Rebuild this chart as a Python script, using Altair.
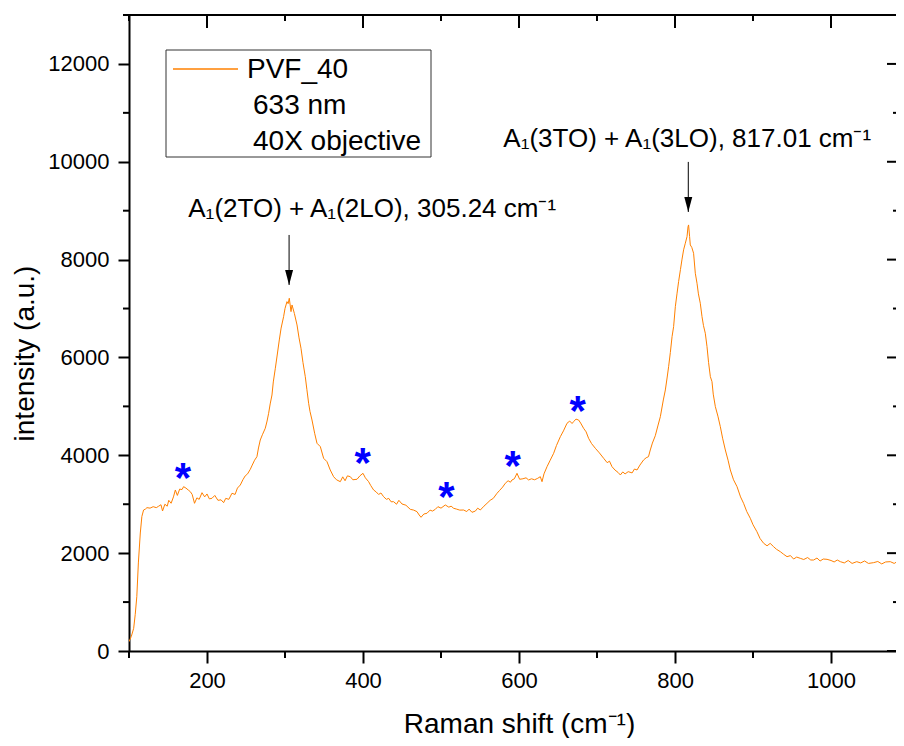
import altair as alt
import pandas as pd

# ---------------- data ----------------
shift = [100, 103, 106, 108, 110, 112, 114.5, 116.5, 118.7, 121, 123, 127, 131, 135, 138, 141, 143, 146,
         149, 151, 154, 157, 159.4, 162, 165, 168, 170, 173, 176, 178.6, 181, 184, 187, 190, 193.6, 197,
         200, 203, 206.4, 210, 214, 218, 221.3, 224, 228, 232, 236, 239, 242.7, 246, 249, 252, 255.5, 258,
         261, 264, 266, 268.3, 271, 274.7, 277, 279, 281, 283.3, 285, 287.6, 290, 292.7, 295, 298.2, 300,
         302.5, 304, 305.5, 307.7, 309, 312, 315.4, 318, 320.5, 323, 326, 328, 330.3, 332, 334.6, 338, 341,
         345.3, 349.5, 353.8, 358, 362.3, 366, 370.9, 374, 377, 380, 383.7, 387, 392.3, 396, 400, 403, 407.2,
         410, 413.6, 417, 420, 423, 426.4, 430, 433, 436, 439.2, 443, 446, 450, 455, 460.6, 465, 469.2, 472,
         474.4, 478, 482, 486, 489, 492.7, 496, 500, 505.5, 510, 513, 516.2, 520, 524, 529, 533, 536, 539.7,
         544, 547, 550.4, 555, 559, 563, 567, 571.8, 575, 579, 582.4, 586, 589, 591, 594, 597.4, 600.8, 605,
         609, 612.3, 616, 620, 624, 627.3, 629.5, 632, 635.9, 640, 644.4, 648, 653, 657, 661.5, 665, 668, 670,
         673, 676.4, 679, 682.8, 686, 689.2, 693, 697.8, 703, 708.5, 713, 716, 719.2, 723, 727, 729.9, 733,
         736, 740, 745, 748, 751.3, 755, 759.7, 763, 766, 768.3, 771, 774.7, 778, 781.2, 785, 787.6, 790,
         791.8, 794, 796.2, 798.2, 800.4, 802.5, 804.6, 807, 809, 811, 813.2, 815.4, 816.7, 817.4, 818.7,
         819.6, 821.5, 823.8, 826, 828.2, 830, 832.4, 834.6, 836.5, 838.8, 841, 843, 845.3, 847.4, 849, 851.7,
         855, 858.1, 861, 864.5, 868, 870.9, 875, 879.5, 884, 887.9, 892, 896.5, 900, 905, 909, 913.6, 918,
         922, 926.4, 930, 935, 939, 943.6, 948, 952, 956, 960.6, 965, 970, 974, 977.7, 982, 986, 990, 994.9,
         1000, 1004, 1008, 1012, 1017, 1022, 1027, 1033, 1038, 1043, 1048, 1054.6, 1060, 1065, 1070, 1076,
         1081, 1086, 1091, 1095, 1100]
intensity = [190, 300, 464, 750, 1110, 1800, 2412, 2750, 2882, 2900, 2930, 2920, 2950, 2930, 2960, 2990,
             2862, 3000, 2960, 3080, 3020, 3150, 3291, 3180, 3310, 3300, 3359, 3330, 3290, 3257, 3200, 3019,
             3130, 3100, 3236, 3150, 3210, 3110, 3121, 3180, 3080, 3090, 3032, 3120, 3100, 3224, 3200, 3330,
             3393, 3500, 3580, 3620, 3714, 3800, 3900, 3972, 4150, 4313, 4420, 4553, 4700, 4859, 5050, 5233,
             5500, 5779, 6050, 6358, 6600, 6834, 7000, 7141, 7100, 7210, 6937, 7073, 6900, 6664, 6400, 6188,
             5900, 5607, 5350, 5064, 4900, 4722, 4450, 4246, 4177, 3939, 3870, 3700, 3563, 3500, 3461, 3560,
             3480, 3580, 3563, 3500, 3510, 3580, 3632, 3540, 3461, 3380, 3291, 3250, 3200, 3230, 3154, 3100,
             3120, 3050, 3052, 3000, 3080, 3005, 2980, 2896, 2880, 2848, 2780, 2733, 2800, 2815, 2880, 2860,
             2896, 2950, 2920, 2985, 2940, 2960, 2917, 2900, 2880, 2882, 2850, 2900, 2835, 2860, 2920, 2882,
             2960, 3019, 3080, 3120, 3224, 3280, 3350, 3428, 3480, 3450, 3496, 3520, 3632, 3510, 3520, 3540,
             3496, 3520, 3500, 3530, 3563, 3461, 3620, 3768, 3900, 4041, 4200, 4381, 4500, 4654, 4700, 4650,
             4688, 4740, 4722, 4660, 4552, 4480, 4348, 4240, 4144, 4050, 3939, 3850, 3880, 3768, 3700, 3650,
             3598, 3660, 3620, 3666, 3640, 3720, 3700, 3800, 3905, 3950, 3972, 4109, 4250, 4400, 4600, 4790,
             5131, 5336, 5600, 5812, 6100, 6425, 6630, 7038, 7300, 7550, 7800, 8010, 8200, 8335, 8470, 8674,
             8709, 8470, 8300, 8250, 8130, 7721, 7517, 7300, 7108, 6834, 6650, 6495, 6221, 5900, 5608, 5505,
             5250, 4994, 4800, 4585, 4350, 4109, 3900, 3700, 3500, 3359, 3150, 3019, 2850, 2713, 2580, 2439,
             2300, 2202, 2150, 2200, 2132, 2080, 2030, 1980, 1928, 1950, 1880, 1920, 1894, 1870, 1910, 1860,
             1860, 1900, 1840, 1880, 1874, 1850, 1820, 1860, 1826, 1800, 1850, 1790, 1826, 1800, 1840, 1790,
             1806, 1830, 1780, 1820, 1826, 1790, 1840, 1800, 1826, 1810]

star_x = [169.2, 399.5, 506.8, 591.8, 675.1]
star_y = [3735, 4042, 3359, 3986, 5111]

arrow_x = [305.24, 817.01]
arrow_top = [8504, 9997]
arrow_tip = [7482, 8974]

ann_text = ["A\u2081(2TO) + A\u2081(2LO), 305.24 cm\u207b\u00b9",
            "A\u2081(3TO) + A\u2081(3LO), 817.01 cm\u207b\u00b9"]
ann_x = [176.0, 579.9]
ann_y = [8872, 10303]

legend_labels = ["PVF_40", "633 nm", "40X objective"]

x_major = [200, 400, 600, 800, 1000]
x_minor = [100, 300, 500, 700, 900]
y_major = [0, 2000, 4000, 6000, 8000, 10000, 12000]
y_minor = [1000, 3000, 5000, 7000, 9000, 11000, 13000]

# ---------------- styling ----------------
X_DOMAIN = [100, 1083.3]
Y_DOMAIN = [0, 13000]
W, H = 767, 636
FONT = "Liberation Sans"
ORANGE = "#FF8000"

spec = pd.DataFrame({"shift": shift, "intensity": intensity})
stars = pd.DataFrame({"shift": star_x, "intensity": star_y})
arrows = pd.DataFrame({"shift": arrow_x, "intensity": arrow_top, "tip": arrow_tip})
anns = pd.DataFrame({"shift": ann_x, "intensity": ann_y, "t": ann_text})
ymaj = pd.DataFrame({"intensity": y_major})
ymin = pd.DataFrame({"intensity": y_minor})
one = pd.DataFrame({"k": [0]})

xsc = alt.Scale(domain=X_DOMAIN, nice=False, zero=False)
ysc = alt.Scale(domain=Y_DOMAIN, nice=False, zero=False)

x_axis = alt.Axis(values=x_major, format="d", tickSize=12, tickWidth=2, tickColor="black",
                  domainWidth=2, domainColor="black", grid=False, labelFont=FONT,
                  labelFontSize=22, labelColor="black", labelPadding=7,
                  title="Raman shift (cm\u207b\u00b9)", titleFont=FONT, titleFontSize=28,
                  titleFontWeight="normal", titleColor="black", titleX=390, titleY=81,
                  titleAlign="center", titleBaseline="alphabetic")
y_axis = alt.Axis(values=y_major, format="d", tickSize=11, tickWidth=2, tickColor="black",
                  domainWidth=2, domainColor="black", grid=False, labelFont=FONT,
                  labelFontSize=22, labelColor="black", labelPadding=9,
                  title="intensity (a.u.)", titleFont=FONT, titleFontSize=28,
                  titleFontWeight="normal", titleColor="black", titleX=-96, titleY=338,
                  titleAngle=270, titleAlign="center", titleBaseline="alphabetic")


def X(field="shift"):
    return alt.X(f"{field}:Q", scale=xsc, axis=x_axis)


def Y(field="intensity"):
    return alt.Y(f"{field}:Q", scale=ysc, axis=y_axis)


line = alt.Chart(spec).mark_line(color=ORANGE, strokeWidth=1, clip=True).encode(x=X(), y=Y())

rules = alt.Chart(arrows).mark_rule(color="black", strokeWidth=1).encode(
    x=X(), y=Y(), y2="tip:Q")
heads = alt.Chart(arrows).mark_point(shape="M-0.53,-2L0.53,-2L0,0Z", size=225, filled=True,
                                     color="black", opacity=1).encode(x=X(), y=Y("tip"))
texts = alt.Chart(anns).mark_text(font=FONT, fontSize=26, align="left", baseline="alphabetic",
                                  color="black").encode(x=X(), y=Y(), text="t:N")
star_marks = alt.Chart(stars).mark_text(text="*", font=FONT, fontSize=42, fontWeight="bold",
                                        color="#0000FF", align="center", baseline="alphabetic",
                                        dy=24).encode(x=X(), y=Y())


# frame and inward / minor ticks (Origin style); x ticks placed with datum values on the x scale
def xtick(v, y_top, y_bottom):
    return alt.Chart(one).mark_rule(color="black", strokeWidth=2).encode(
        x=alt.X(datum=v, scale=xsc, axis=x_axis),
        y=alt.value(y_top), y2=alt.value(y_bottom))


x_tick_layers = ([xtick(v, 0, 13) for v in x_major]
                 + [xtick(v, 0, 6) for v in x_minor]
                 + [xtick(v, H, H + 7) for v in x_minor])

HT = dict(color="black", opacity=1, thickness=2, orient="horizontal")
top_frame = alt.Chart(one).mark_rule(color="black", strokeWidth=2).encode(
    x=alt.value(0), x2=alt.value(W), y=alt.value(0))
left_minor = alt.Chart(ymin).mark_tick(size=6, **HT).encode(y=Y(), x=alt.value(-3))
right_major = alt.Chart(ymaj).mark_tick(size=9, **HT).encode(y=Y(), x=alt.value(W - 4.5))
right_minor = alt.Chart(ymin).mark_tick(size=3, **HT).encode(y=Y(), x=alt.value(W - 1.5))

# legend box (manual, Origin style)
leg_box = alt.Chart(one).mark_rect(fill="white", stroke="#333333", strokeWidth=1).encode(
    x=alt.value(37), x2=alt.value(302), y=alt.value(35), y2=alt.value(142))
leg_line = alt.Chart(one).mark_rule(color=ORANGE, strokeWidth=1.5).encode(
    x=alt.value(44), x2=alt.value(109), y=alt.value(54))
leg_texts = []
for i, lab in enumerate(legend_labels):
    leg_texts.append(alt.Chart(one).mark_text(text=lab, font=FONT, fontSize=28, align="left",
                                              baseline="alphabetic", color="black").encode(
        x=alt.value(118 if i == 0 else 124), y=alt.value(63 + 36 * i)))

chart = alt.layer(
    line, rules, heads, texts, star_marks,
    top_frame, *x_tick_layers, left_minor, right_major, right_minor,
    leg_box, leg_line, *leg_texts
).properties(
    width=W, height=H,
    autosize=alt.AutoSizeParams(type="none"),
    padding={"left": 121, "top": 7, "right": 0, "bottom": 87},
    background="white",
).configure_view(stroke=None)

chart.save("out.html", embed_options={"renderer": "svg", "actions": False})
